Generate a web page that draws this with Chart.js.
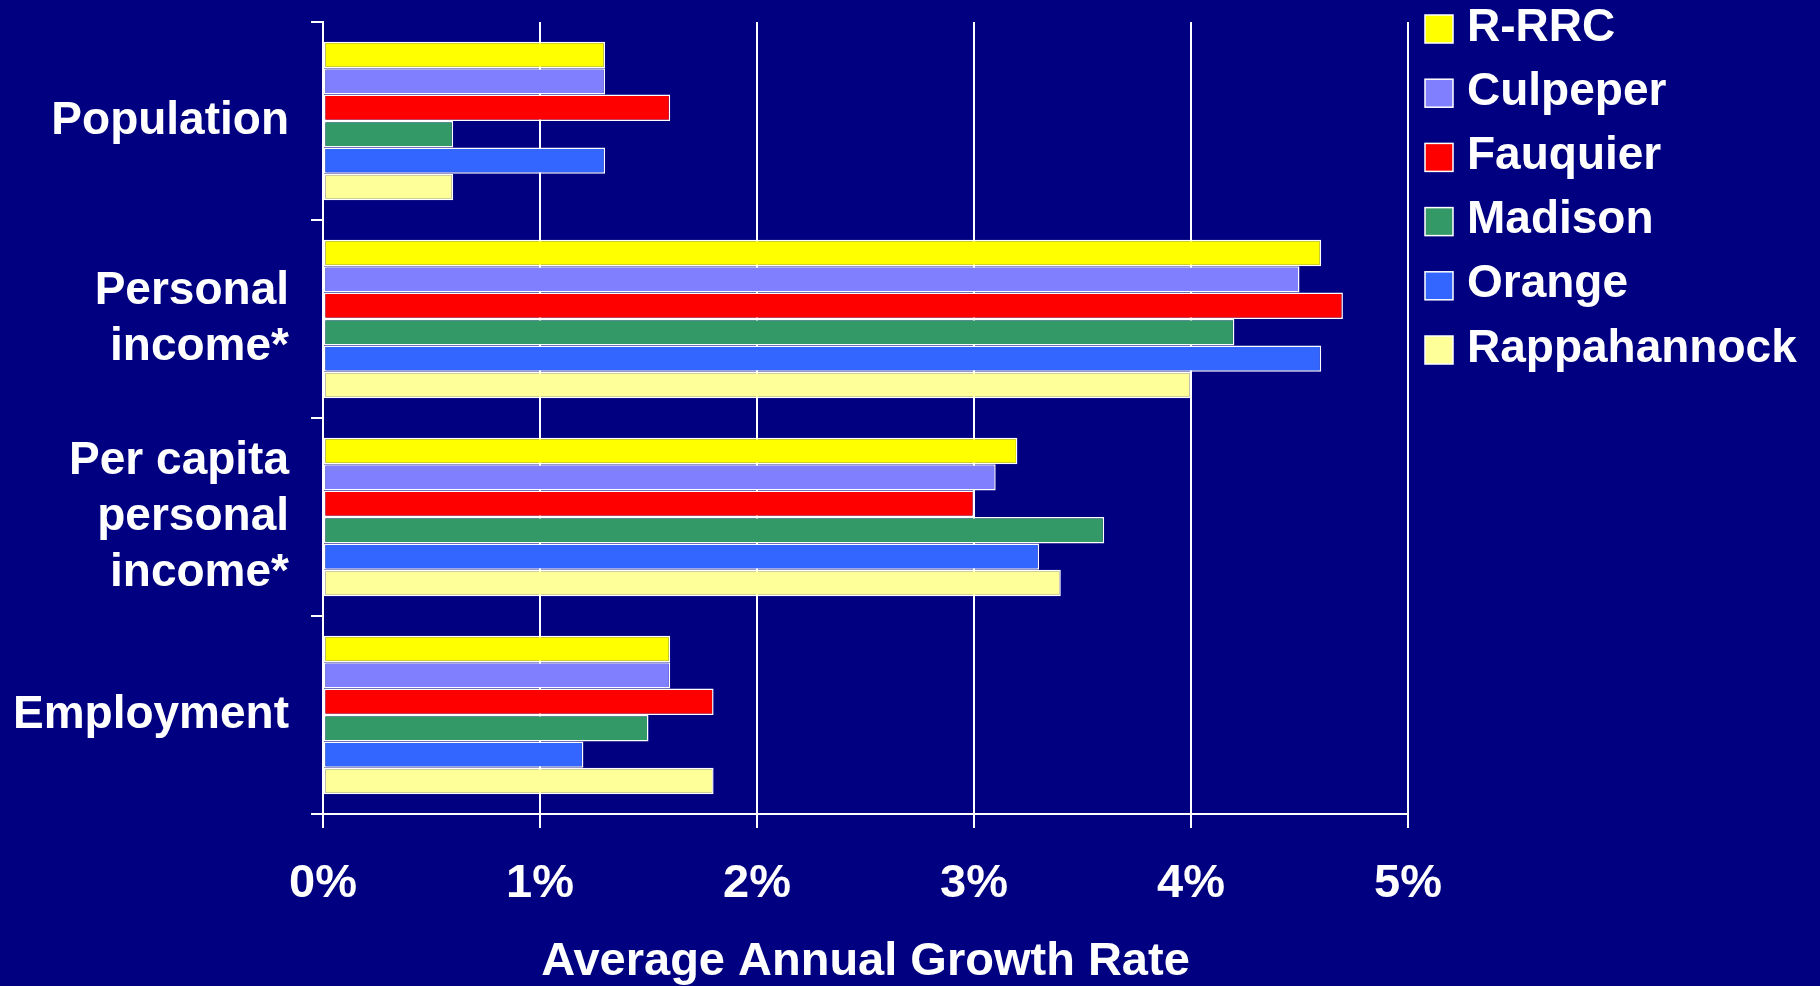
<!DOCTYPE html>
<html>
<head>
<meta charset="utf-8">
<script src="https://cdn.jsdelivr.net/npm/chart.js@4.4.1/dist/chart.umd.min.js"></script>
<style>
  html, body { margin: 0; padding: 0; background: #000080; }
  #wrap { width: 1820px; height: 986px; }
</style>
</head>
<body>
<div id="wrap"><canvas id="grafico"></canvas></div>
<script>
// categorias y series
const categorias = [['Population'], ['Personal', 'income*'], ['Per capita', 'personal', 'income*'], ['Employment']];
const series = ['R-RRC', 'Culpeper', 'Fauquier', 'Madison', 'Orange', 'Rappahannock'];
const colores = ['#FFFF00', '#8080FF', '#FF0000', '#339966', '#3366FF', '#FFFF99'];

const rrc = [1.3, 4.6, 3.2, 1.6];
const culpeper = [1.3, 4.5, 3.1, 1.6];
const fauquier = [1.6, 4.7, 3.0, 1.8];
const madison = [0.6, 4.2, 3.6, 1.5];
const orange = [1.3, 4.6, 3.3, 1.2];
const rappahannock = [0.6, 4.0, 3.4, 1.8];
const valores = [rrc, culpeper, fauquier, madison, orange, rappahannock];

const ejeMin = 0;
const ejeMax = 5;
const ejePaso = 1;
const ejeTitulo = 'Average Annual Growth Rate';

const fuente = '"Liberation Sans", Arial, sans-serif';

// leyenda dibujada a mano para ubicarla igual que en la diapositiva
const leyendaPlugin = {
  id: 'leyendaDerecha',
  afterDraw(chart) {
    const ctx = chart.ctx;
    ctx.save();
    ctx.font = `bold 46px ${fuente}`;
    ctx.textBaseline = 'middle';
    ctx.textAlign = 'left';
    chart.data.datasets.forEach((ds, i) => {
      const cy = 29 + i * 64.2;
      ctx.fillStyle = ds.backgroundColor;
      ctx.fillRect(1425, cy - 14, 28, 28);
      ctx.strokeStyle = '#ffffff';
      ctx.lineWidth = 1.5;
      ctx.strokeRect(1425, cy - 14, 28, 28);
      ctx.fillStyle = '#ffffff';
      ctx.fillText(ds.label, 1467, cy - 1);
    });
    ctx.restore();
  }
};

const ctx = document.getElementById('grafico').getContext('2d');
new Chart(ctx, {
  type: 'bar',
  data: {
    labels: categorias,
    datasets: series.map((nombre, i) => ({
      label: nombre,
      data: valores[i],
      backgroundColor: colores[i],
      borderColor: '#ffffff',
      borderWidth: 1.5,
      borderSkipped: false,
      barPercentage: 1,
      categoryPercentage: 0.8
    }))
  },
  options: {
    indexAxis: 'y',
    responsive: true,
    maintainAspectRatio: false,
    animation: false,
    layout: { padding: { left: 12, right: 412, top: 22, bottom: 0 } },
    plugins: {
      legend: { display: false },
      tooltip: { enabled: false }
    },
    scales: {
      x: {
        min: ejeMin,
        max: ejeMax,
        ticks: {
          stepSize: ejePaso,
          color: '#ffffff',
          font: { family: fuente, size: 47, weight: 'bold', lineHeight: 1.2 },
          padding: 28,
          callback: v => v + '%'
        },
        grid: { color: '#ffffff', lineWidth: 2, tickLength: 14, drawTicks: true },
        border: { color: '#ffffff', width: 2 },
        title: {
          display: true,
          text: ejeTitulo,
          color: '#ffffff',
          font: { family: fuente, size: 47, weight: 'bold', lineHeight: 1.0 },
          padding: { top: 14, bottom: 0 }
        },
        afterFit: s => { s.height = 172; s.paddingLeft = 0; s.paddingRight = 0; }
      },
      y: {
        ticks: {
          color: '#ffffff',
          font: { family: fuente, size: 46, weight: 'bold', lineHeight: 1.22 },
          padding: 22
        },
        grid: { drawOnChartArea: false, color: '#ffffff', lineWidth: 2, tickLength: 12 },
        border: { color: '#ffffff', width: 2 },
        afterFit: s => { s.width = 311; s.paddingTop = 0; s.paddingBottom = 0; }
      }
    }
  },
  plugins: [leyendaPlugin]
});
</script>
</body>
</html>
